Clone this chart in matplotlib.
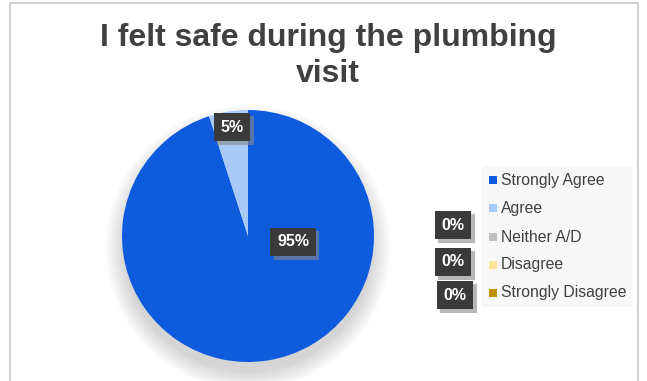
import matplotlib.pyplot as plt
import matplotlib.patheffects as pe
from matplotlib.patches import Rectangle, Circle

categories = ["Strongly Agree", "Agree", "Neither A/D", "Disagree", "Strongly Disagree"]
values = [95, 5, 0, 0, 0]
colors = ["#0E5CDD", "#A9C9F9", "#BFBFBF", "#FFE699", "#BF9000"]
title = "I felt safe during the plumbing\nvisit"

W, H = 647, 381
fig = plt.figure(figsize=(W / 100, H / 100), dpi=100)
fig.patch.set_facecolor("white")
plt.rcParams["font.family"] = ["Liberation Sans", "DejaVu Sans"]

# pie axes
cx, cy, r = 248, 236, 126
pie_ax = fig.add_axes([(cx - r) / W, 1 - (cy + r) / H, 2 * r / W, 2 * r / H])
pie_ax.axis("off")

# soft shadow under the pie
for i in range(14):
    rr = 0.99 + 0.011 * i
    pie_ax.add_patch(Circle((0.0, -0.09), rr, color="black", alpha=0.013, lw=0,
                            zorder=0, clip_on=False))

wedges, _ = pie_ax.pie(values, colors=colors, startangle=90, counterclock=False,
                       radius=1.0, wedgeprops=dict(linewidth=0), frame=False)
for w in wedges:
    w.set_zorder(2)
pie_ax.set_xlim(-1, 1)
pie_ax.set_ylim(-1, 1)
pie_ax.set_aspect("equal")

# overlay axes in pixel coordinates (y downward), drawn above the pie
ov = fig.add_axes([0, 0, 1, 1])
ov.set_zorder(10)
ov.patch.set_visible(False)
ov.set_xlim(0, W)
ov.set_ylim(H, 0)
ov.axis("off")

# chart frame
ov.add_patch(Rectangle((10, 3), 628, 390, fill=False, edgecolor="#C8C8C8", lw=1.2))

ov.text(328, 56, title, ha="center", va="center", fontsize=23, fontweight="bold",
        color="#404040", linespacing=1.25)


def data_label(x, y, s):
    # dark label box with a drop shadow
    t = ov.text(x, y, s, ha="center", va="center", fontsize=11.5, fontweight="bold",
                color="white",
                bbox=dict(boxstyle="square,pad=0.42", fc="#3A3A3A", ec="none"), zorder=5)
    t.get_bbox_patch().set_path_effects([
        pe.SimplePatchShadow(offset=(2.5, -2.5), shadow_rgbFace="#888888", alpha=0.6),
        pe.Normal(),
    ])


pct_labels = [f"{v}%" for v in values]
data_label(293, 242, pct_labels[0])
data_label(232, 127, pct_labels[1])
data_label(453, 225, pct_labels[2])
data_label(453, 262, pct_labels[3])
data_label(455, 295, pct_labels[4])

# legend
ov.add_patch(Rectangle((482, 166), 151, 141, fc="#F7F7F7", ec="none", zorder=1))
ys = [180, 208, 237, 265, 293]
for cat, col, y in zip(categories, colors, ys):
    ov.add_patch(Rectangle((489, y - 4), 8, 8, fc=col, ec="none", zorder=2))
    ov.text(501, y, cat, ha="left", va="center", fontsize=11.3, color="#404040", zorder=3)

fig.savefig("out.png", dpi=100)
